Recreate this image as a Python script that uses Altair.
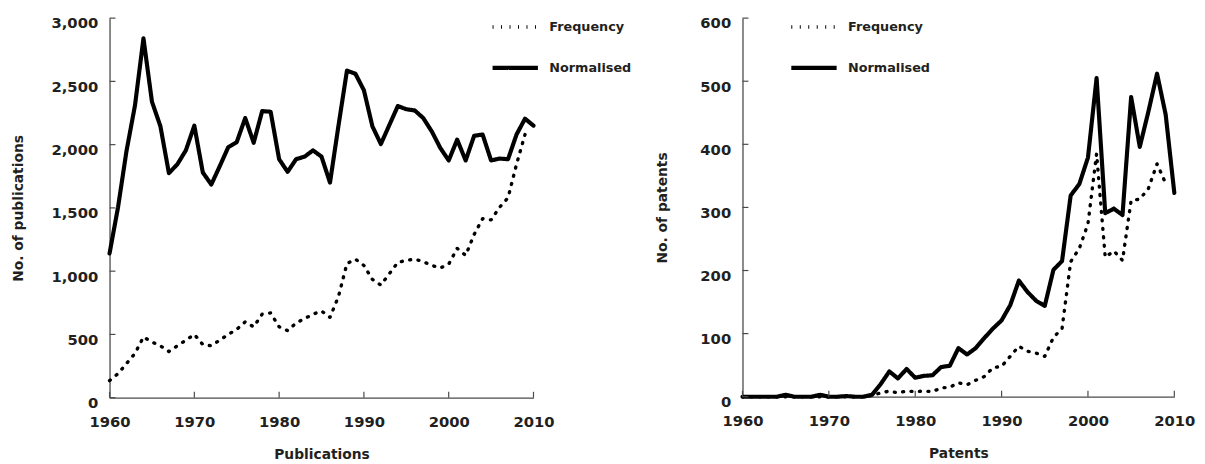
import altair as alt
import pandas as pd

years = list(range(1960, 2011))

pub_frequency = [135, 190, 270, 350, 480, 440, 410, 365, 410, 455,
                 500, 420, 410, 455, 500, 540, 600, 560, 660, 670,
                 560, 530, 590, 625, 660, 685, 635, 800, 1060, 1095,
                 1045, 935, 890, 980, 1070, 1085, 1095, 1075, 1045, 1025,
                 1055, 1180, 1125, 1290, 1415, 1405, 1505, 1580, 1845, 2080,
                 None]
pub_normalised = [1140, 1505, 1950, 2310, 2840, 2340, 2145, 1775, 1845, 1955,
                  2150, 1780, 1685, 1830, 1980, 2020, 2210, 2015, 2265, 2260,
                  1885, 1785, 1885, 1905, 1955, 1905, 1700, 2150, 2585, 2560,
                  2430, 2145, 2005, 2155, 2305, 2280, 2270, 2210, 2105, 1975,
                  1875, 2040, 1875, 2070, 2080, 1875, 1890, 1885, 2080, 2205,
                  2150]

pat_frequency = [0, 0, 0, 0, 0, 0, 0, 0, 0, 0,
                 0, 0, 0, 0, 0, 2, 6, 9, 6, 9,
                 8, 9, 8, 14, 15, 22, 19, 26, 32, 46,
                 48, 64, 80, 72, 69, 64, 94, 108, 214, 235,
                 274, 385, 221, 231, 216, 311, 313, 330, 369, 338,
                 None]
pat_normalised = [0, 0, 0, 0, 0, 3, 0, 0, 0, 3,
                  0, 0, 1, 0, 0, 3, 20, 40, 29, 44,
                  30, 33, 34, 47, 49, 77, 67, 77, 93, 108,
                  121, 145, 184, 166, 152, 144, 201, 215, 319, 337,
                  379, 505, 291, 298, 288, 475, 396, 452, 512, 447,
                  323]

series_names = ["Frequency", "Normalised"]
x_ticks = [1960, 1970, 1980, 1990, 2000, 2010]
pub_y_ticks = [0, 500, 1000, 1500, 2000, 2500, 3000]
pat_y_ticks = [0, 100, 200, 300, 400, 500, 600]

FONT = "DejaVu Sans"
TXT = "#231f20"
AX = "#4a4a4a"


def long_df(freq, norm):
    rows = []
    for name, vals in zip(series_names, [freq, norm]):
        for yr, v in zip(years, vals):
            if v is not None:
                rows.append({"year": yr, "value": v, "series": name})
    return pd.DataFrame(rows)


def legend(leg_x):
    return alt.Legend(title=None, orient="none", legendX=leg_x, legendY=-16,
                      symbolType="stroke", symbolSize=2116,
                      symbolStrokeColor="black", labelOffset=9,
                      rowPadding=9, padding=0,
                      labelFont=FONT, labelFontWeight="bold",
                      labelFontSize=13, labelColor=TXT)


def panel(freq, norm, y_ticks, y_title, x_title, w, h, y_fmt, title_pad, leg_x):
    xs = alt.Scale(domain=[1960, 2010], nice=False, zero=False)
    ys = alt.Scale(domain=[y_ticks[0], y_ticks[-1]], nice=False)
    lines = alt.Chart(long_df(freq, norm)).mark_line(
        color="black", clip=False, strokeCap="round", strokeJoin="round"
    ).encode(
        x=alt.X("year:Q", scale=xs, title=x_title,
                axis=alt.Axis(values=x_ticks, format="d", labelFlush=False,
                              labelPadding=17, titlePadding=19)),
        y=alt.Y("value:Q", scale=ys, title=y_title,
                axis=alt.Axis(values=y_ticks, format=y_fmt, labelOffset=5,
                              labelPadding=12, titlePadding=title_pad)),
        strokeDash=alt.StrokeDash(
            "series:N",
            scale=alt.Scale(domain=series_names, range=[[1, 7.6], [1, 0]]),
            legend=legend(leg_x)),
        strokeWidth=alt.StrokeWidth(
            "series:N",
            scale=alt.Scale(domain=series_names, range=[3.4, 4.2]),
            legend=legend(leg_x)),
    )
    ytick = alt.Chart(pd.DataFrame({"value": y_ticks})).mark_rule(
        color=AX, strokeWidth=1.2
    ).encode(
        y=alt.Y("value:Q", scale=ys, title=y_title),
        x=alt.value(0), x2=alt.value(6),
    )
    xtick = alt.Chart(pd.DataFrame({"year": x_ticks})).mark_rule(
        color=AX, strokeWidth=1.2
    ).encode(
        x=alt.X("year:Q", scale=xs, title=x_title),
        y=alt.value(h), y2=alt.value(h - 6),
    )
    return alt.layer(lines, ytick, xtick).properties(width=w, height=h)


left = panel(pub_frequency, pub_normalised, pub_y_ticks, "No. of publications",
             "Publications", 430, 385, ",d", 26, 386)
right = panel(pat_frequency, pat_normalised, pat_y_ticks, "No. of patents",
              "Patents", 438, 384, "d", 31, 47)

chart = alt.hconcat(left, right, spacing=23).resolve_scale(
    strokeDash="independent", strokeWidth="independent"
).resolve_legend(
    strokeDash="independent", strokeWidth="independent"
).properties(
    padding={"left": 3, "top": -9, "right": 2, "bottom": 0}
).configure_view(stroke=None).configure_axis(
    ticks=False, grid=False, domainColor=AX, domainWidth=1.3,
    labelFont=FONT, labelFontWeight="bold", labelFontSize=15, labelColor=TXT,
    titleFont=FONT, titleFontWeight="bold", titleFontSize=14, titleColor=TXT,
)

chart.save("out.html", embed_options={"renderer": "svg", "actions": False})
